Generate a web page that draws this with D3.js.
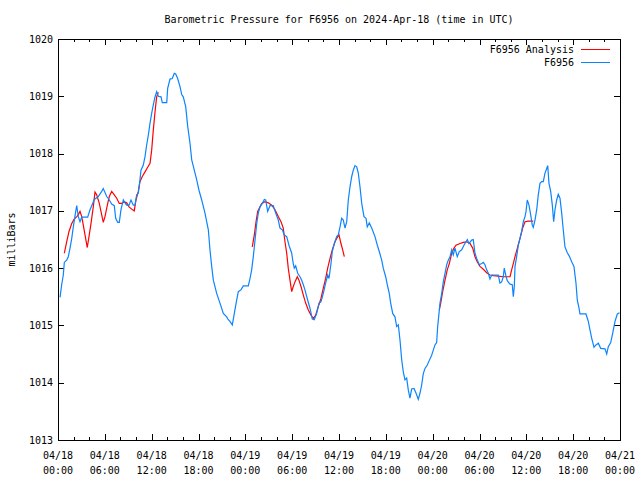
<!DOCTYPE html>
<html>
<head>
<meta charset="utf-8">
<script src="https://cdn.jsdelivr.net/npm/d3@7"></script>
<style>
  html, body { margin: 0; padding: 0; background: #fff; }
  svg { display: block; }
  text { font-family: "DejaVu Sans Mono", "Liberation Mono", monospace; font-size: 10px; fill: #000; }
</style>
</head>
<body>
<svg id="chart" width="640" height="480"></svg>
<script>
// ---- Data (hours since 2024-04-18 00:00 UTC, pressure in mb) ----
const stationHours = [0.26,0.47,0.68,0.81,1.11,1.32,1.54,1.76,1.96,2.27,2.40,2.60,2.82,3.04,3.80,4.10,4.32,4.65,5.16,5.60,5.80,6.24,6.44,6.88,7.21,7.39,7.65,7.85,8.07,8.37,8.58,8.80,9.10,9.35,9.65,9.86,10.08,10.29,10.50,10.63,10.93,11.15,11.36,11.57,11.79,12.00,12.21,12.43,12.64,12.85,13.20,13.36,13.93,14.05,14.35,14.64,14.90,15.08,15.33,15.63,15.85,16.05,16.36,16.62,16.91,17.13,17.46,17.77,18.06,18.41,18.83,19.26,19.47,19.69,19.90,20.33,20.75,21.18,21.61,21.82,22.03,22.33,22.59,22.89,23.10,23.44,23.74,24.38,24.60,24.81,25.02,25.24,25.46,25.66,25.88,26.22,26.43,26.61,26.86,27.16,27.58,27.89,28.22,28.44,28.74,28.99,29.30,29.59,29.94,30.14,30.27,30.45,30.71,31.00,31.22,31.43,31.64,31.99,32.28,32.58,32.83,33.14,33.44,33.69,33.99,34.29,34.55,34.72,34.97,35.14,35.40,35.70,35.91,36.13,36.34,36.55,36.77,36.99,37.19,37.41,37.63,37.83,38.05,38.27,38.47,38.69,38.91,39.20,39.46,39.62,39.88,40.19,40.61,40.91,41.16,41.47,41.67,41.98,42.19,42.44,42.62,42.88,43.17,43.39,43.60,43.81,44.03,44.24,44.45,44.67,44.88,45.09,45.31,45.61,45.86,46.16,46.38,46.59,46.80,47.02,47.31,47.57,47.87,48.08,48.30,48.51,48.64,48.81,48.94,49.16,49.36,49.58,49.80,50.00,50.22,50.44,50.64,50.86,51.15,51.41,51.72,52.01,52.27,52.44,52.65,53.00,53.20,53.42,53.64,53.97,54.28,54.49,54.70,54.92,55.13,55.34,55.56,55.85,56.41,56.62,56.84,57.05,57.17,57.39,57.56,57.91,58.20,58.33,58.46,58.55,58.76,58.97,59.19,59.40,59.61,59.83,59.96,60.12,60.34,60.56,60.76,60.89,61.11,61.33,61.53,61.75,61.97,62.17,62.39,62.61,62.74,62.90,63.12,63.33,63.50,63.67,63.89,64.09,64.31,64.53,64.73,64.95,65.25,65.50,65.81,66.10,66.36,66.53,66.71,66.87,67.64,67.94,68.16,68.37,68.67,68.92,69.22,69.53,70.08,70.30,70.50,70.81,71.06,71.36,71.66,71.94];
const stationValues = [1015.49,1015.71,1015.88,1016.10,1016.14,1016.20,1016.35,1016.52,1016.72,1016.99,1017.09,1016.90,1016.81,1016.89,1016.89,1017.02,1017.09,1017.20,1017.25,1017.34,1017.39,1017.25,1017.22,1017.12,1017.09,1016.87,1016.80,1016.80,1017.02,1017.19,1017.14,1017.10,1017.10,1017.19,1017.10,1017.10,1017.28,1017.31,1017.54,1017.71,1017.80,1017.95,1018.15,1018.32,1018.53,1018.70,1018.85,1018.99,1019.08,1019.00,1018.99,1018.89,1018.89,1019.14,1019.30,1019.31,1019.40,1019.39,1019.31,1019.17,1019.03,1018.99,1018.82,1018.47,1018.18,1017.89,1017.71,1017.54,1017.36,1017.19,1016.96,1016.67,1016.32,1016.03,1015.79,1015.56,1015.39,1015.21,1015.15,1015.10,1015.07,1015.01,1015.21,1015.44,1015.59,1015.62,1015.69,1015.69,1015.82,1015.97,1016.20,1016.49,1016.78,1016.96,1017.07,1017.14,1017.20,1017.19,1016.99,1017.09,1017.09,1016.96,1016.84,1016.70,1016.67,1016.58,1016.55,1016.40,1016.26,1016.08,1016.00,1016.04,1015.91,1015.85,1015.79,1015.71,1015.62,1015.44,1015.30,1015.11,1015.10,1015.21,1015.39,1015.41,1015.56,1015.74,1015.88,1015.82,1016.08,1016.29,1016.43,1016.55,1016.58,1016.72,1016.87,1016.84,1016.70,1016.81,1017.19,1017.42,1017.60,1017.71,1017.79,1017.77,1017.66,1017.42,1017.13,1016.90,1016.87,1016.72,1016.79,1016.70,1016.55,1016.40,1016.29,1016.14,1016.00,1015.85,1015.71,1015.56,1015.39,1015.21,1015.15,1014.98,1015.01,1014.75,1014.40,1014.19,1014.05,1014.08,1013.87,1013.73,1013.89,1013.90,1013.82,1013.71,1013.82,1013.96,1014.16,1014.25,1014.31,1014.39,1014.48,1014.57,1014.66,1014.70,1014.98,1015.21,1015.39,1015.56,1015.76,1015.91,1016.06,1016.14,1016.20,1016.32,1016.23,1016.35,1016.20,1016.29,1016.32,1016.40,1016.46,1016.50,1016.43,1016.49,1016.50,1016.26,1016.17,1016.06,1016.08,1016.10,1016.06,1015.97,1015.91,1015.81,1015.88,1015.88,1015.88,1015.74,1015.76,1015.85,1016.00,1015.86,1015.78,1015.72,1015.71,1015.50,1015.68,1016.03,1016.20,1016.40,1016.52,1016.64,1016.81,1016.90,1016.99,1017.19,1017.10,1016.93,1016.75,1016.71,1016.84,1017.02,1017.28,1017.48,1017.51,1017.51,1017.66,1017.74,1017.79,1017.48,1017.34,1017.10,1016.81,1017.02,1017.19,1017.29,1017.22,1016.96,1016.67,1016.37,1016.27,1016.21,1016.11,1016.03,1015.74,1015.44,1015.33,1015.20,1015.20,1015.07,1014.92,1014.78,1014.62,1014.66,1014.69,1014.60,1014.59,1014.50,1014.63,1014.70,1014.86,1015.07,1015.20,1015.22];

// Analysis series: null marks a gap between segments
const analysisHours = [0.81,1.11,1.41,1.76,2.05,2.40,2.60,2.82,3.04,3.24,3.46,3.75,3.97,4.23,4.52,4.74,4.96,5.29,5.60,5.80,6.02,6.32,6.57,6.88,7.21,7.52,7.85,8.16,8.49,8.80,9.10,9.44,9.77,9.99,10.29,10.50,10.80,11.15,11.49,11.79,12.00,12.21,12.43,12.64,12.85,
  null,
  24.89,25.15,25.37,25.58,26.10,26.52,26.94,27.38,27.80,28.22,28.57,28.86,29.08,29.30,29.50,29.72,29.94,30.14,30.36,30.66,30.87,31.13,31.43,31.73,32.07,32.41,32.71,33.01,33.35,33.69,33.99,34.29,34.55,34.85,35.14,35.49,35.83,36.00,36.25,36.47,36.68,
  null,
  48.85,49.03,49.28,49.58,49.87,50.13,50.44,50.73,50.99,51.50,51.92,52.36,52.65,52.78,53.13,53.42,53.71,54.06,54.49,54.92,55.34,55.76,56.41,57.05,57.91,58.12,58.33,58.55,58.85,59.19,59.53,59.83,60.25,60.89];
const analysisValues = [1016.26,1016.46,1016.64,1016.78,1016.85,1016.90,1016.93,1016.99,1016.90,1016.75,1016.58,1016.36,1016.55,1016.78,1017.07,1017.33,1017.28,1017.13,1016.93,1016.80,1016.90,1017.10,1017.25,1017.34,1017.28,1017.22,1017.13,1017.13,1017.16,1017.14,1017.07,1017.03,1017.00,1017.19,1017.34,1017.51,1017.60,1017.68,1017.76,1017.83,1018.06,1018.41,1018.73,1018.99,1019.07,
  null,
  1016.37,1016.58,1016.81,1016.99,1017.13,1017.16,1017.14,1017.10,1017.02,1016.90,1016.81,1016.70,1016.46,1016.26,1016.00,1015.79,1015.59,1015.68,1015.76,1015.85,1015.79,1015.68,1015.53,1015.39,1015.27,1015.18,1015.12,1015.18,1015.33,1015.47,1015.65,1015.82,1016.00,1016.17,1016.32,1016.46,1016.55,1016.58,1016.43,1016.32,1016.20,
  null,
  1015.27,1015.39,1015.59,1015.79,1015.97,1016.08,1016.26,1016.35,1016.40,1016.43,1016.45,1016.46,1016.44,1016.43,1016.35,1016.20,1016.11,1016.03,1015.98,1015.92,1015.88,1015.87,1015.86,1015.85,1015.85,1015.97,1016.08,1016.20,1016.35,1016.52,1016.70,1016.81,1016.82,1016.82];

const xTickHours = [0,6,12,18,24,30,36,42,48,54,60,66,72];
const xTickDates = ["04/18","04/18","04/18","04/18","04/19","04/19","04/19","04/19","04/20","04/20","04/20","04/20","04/21"];
const xTickTimes = ["00:00","06:00","12:00","18:00","00:00","06:00","12:00","18:00","00:00","06:00","12:00","18:00","00:00"];
const xMinorHours = d3.range(0, 73, 2);
const yTicks = [1013,1014,1015,1016,1017,1018,1019,1020];

const titleText = "Barometric Pressure for F6956 on 2024-Apr-18 (time in UTC)";
const yLabel = "milliBars";
const seriesNames = ["F6956 Analysis", "F6956"];
const seriesColors = ["#ff0000", "#0a84ff"];

// ---- Layout ----
const plotL = 58, plotR = 620, plotT = 39, plotB = 440;

const svg = d3.select("#chart");
const x = d3.scaleLinear().domain([0, 72]).range([plotL, plotR]);
const y = d3.scaleLinear().domain([1013, 1020]).range([plotB, plotT]);

const axG = svg.append("g").attr("shape-rendering", "crispEdges");

// minor ticks (bottom & top)
axG.append("g").attr("transform", `translate(0,${plotB})`)
  .call(d3.axisBottom(x).tickValues(xMinorHours).tickSize(-3).tickFormat(""))
  .call(g => g.select(".domain").remove());
axG.append("g").attr("transform", `translate(0,${plotT})`)
  .call(d3.axisTop(x).tickValues(xMinorHours).tickSize(-3).tickFormat(""))
  .call(g => g.select(".domain").remove());
// major ticks
axG.append("g").attr("transform", `translate(0,${plotB})`)
  .call(d3.axisBottom(x).tickValues(xTickHours).tickSize(-6).tickFormat(""))
  .call(g => g.select(".domain").remove());
axG.append("g").attr("transform", `translate(0,${plotT})`)
  .call(d3.axisTop(x).tickValues(xTickHours).tickSize(-6).tickFormat(""))
  .call(g => g.select(".domain").remove());
axG.append("g").attr("transform", `translate(${plotL},0)`)
  .call(d3.axisLeft(y).tickValues(yTicks).tickSize(-6).tickFormat(""))
  .call(g => g.select(".domain").remove());
axG.append("g").attr("transform", `translate(${plotR},0)`)
  .call(d3.axisRight(y).tickValues(yTicks).tickSize(-6).tickFormat(""))
  .call(g => g.select(".domain").remove());
axG.selectAll("line").attr("stroke", "#000");

// frame
axG.append("rect")
  .attr("x", plotL + 0.5).attr("y", plotT + 0.5)
  .attr("width", plotR - plotL).attr("height", plotB - plotT)
  .attr("fill", "none").attr("stroke", "#000").attr("stroke-width", 1);

// y tick labels
svg.append("g").selectAll("text").data(yTicks).join("text")
  .attr("x", plotL - 5).attr("y", d => y(d)).attr("dy", "0.35em")
  .attr("text-anchor", "end").text(d => d);

// x tick labels (two lines)
const xl = svg.append("g").selectAll("text").data(xTickHours).join("text")
  .attr("text-anchor", "middle");
xl.append("tspan").attr("x", d => x(d)).attr("y", 459).text((d, i) => xTickDates[i]);
xl.append("tspan").attr("x", d => x(d)).attr("y", 474).text((d, i) => xTickTimes[i]);

// title
svg.append("text").attr("x", (plotL + plotR) / 2).attr("y", 22.5)
  .attr("text-anchor", "middle").text(titleText);

// y label
svg.append("text").attr("transform", `translate(15,${(plotT + plotB) / 2}) rotate(-90)`)
  .attr("text-anchor", "middle").text(yLabel);

// ---- Series ----
const analysisData = analysisHours.map((h, i) => [h, analysisValues[i]]);
const stationData = stationHours.map((h, i) => [h, stationValues[i]]);

const line = d3.line()
  .defined(d => d[0] !== null && d[1] !== null)
  .x(d => x(d[0])).y(d => y(d[1]));

svg.append("path").datum(analysisData)
  .attr("fill", "none").attr("stroke", seriesColors[0]).attr("stroke-width", 1.2)
  .attr("d", line);
svg.append("path").datum(stationData)
  .attr("fill", "none").attr("stroke", seriesColors[1]).attr("stroke-width", 1.2)
  .attr("d", line);

// ---- Legend ----
const legY = [49.5, 62.5];
const leg = svg.append("g");
seriesNames.forEach((name, i) => {
  leg.append("text").attr("x", 574).attr("y", legY[i]).attr("dy", "0.35em")
    .attr("text-anchor", "end").text(name);
  leg.append("line").attr("x1", 581).attr("x2", 610)
    .attr("y1", legY[i]).attr("y2", legY[i])
    .attr("stroke", seriesColors[i]).attr("stroke-width", 1)
    .attr("shape-rendering", "crispEdges");
});
</script>
</body>
</html>
